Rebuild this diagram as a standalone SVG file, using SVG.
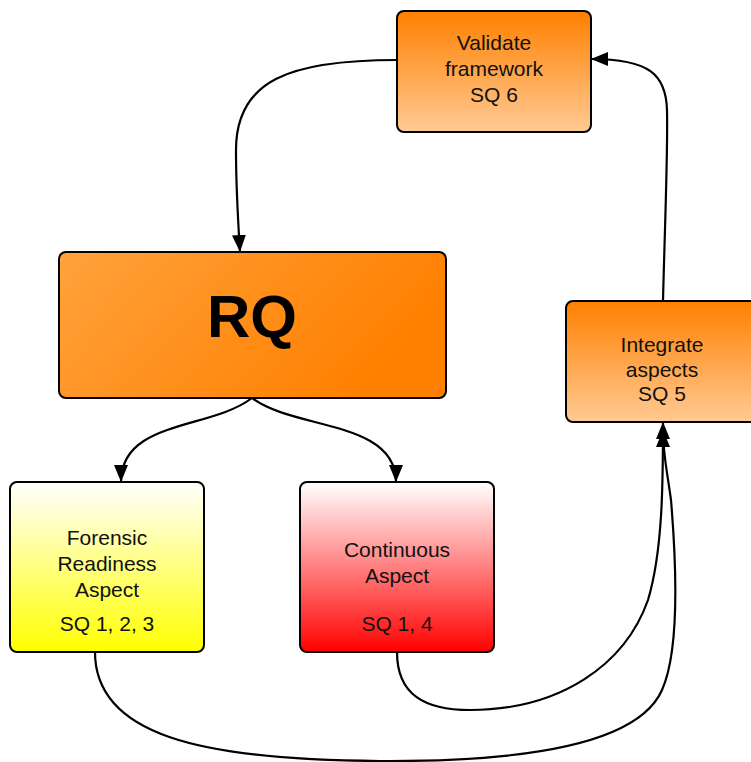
<svg xmlns="http://www.w3.org/2000/svg" width="751" height="762" viewBox="0 0 751 762">
  <defs>
    <linearGradient id="gOrangeV" x1="0" y1="0" x2="0" y2="1">
      <stop offset="0" stop-color="#ff8000"/>
      <stop offset="1" stop-color="#ffca94"/>
    </linearGradient>
    <linearGradient id="gOrangeD" x1="0" y1="0" x2="1" y2="0.35">
      <stop offset="0" stop-color="#ffa23c"/>
      <stop offset="1" stop-color="#ff8000"/>
    </linearGradient>
    <linearGradient id="gYellow" x1="0" y1="0" x2="0" y2="1">
      <stop offset="0" stop-color="#ffffff"/>
      <stop offset="1" stop-color="#ffff00"/>
    </linearGradient>
    <linearGradient id="gRed" x1="0" y1="0" x2="0" y2="1">
      <stop offset="0" stop-color="#ffffff"/>
      <stop offset="1" stop-color="#ff0000"/>
    </linearGradient>
    <marker id="arrow" markerUnits="userSpaceOnUse" markerWidth="18" markerHeight="14" refX="17" refY="7" orient="auto">
      <path d="M0,0 L17,7 L0,14 z" fill="#000"/>
    </marker>
  </defs>
  <style>
    .box { stroke: #000; stroke-width: 2; }
    .lbl { font-family: "Liberation Sans", Arial, sans-serif; font-size: 21px; fill: #111; text-anchor: middle; }
    .big { font-family: "Liberation Sans", Arial, sans-serif; font-size: 60px; font-weight: bold; fill: #000; text-anchor: middle; }
    .edge { fill: none; stroke: #000; stroke-width: 2.2; marker-end: url(#arrow); }
  </style>

  <g id="connectors">
    <path class="edge" d="M397,60 C290,60 236,80 236,150 C236,190 238,220 240,252"/>
    <path class="edge" d="M252,398 C210,430 121,420 121,482"/>
    <path class="edge" d="M252,398 C294,430 396,420 396,482"/>
    <path class="edge" d="M663,301 C665,220 668,150 667,110 C666,75 650,59 591,59"/>
    <path class="edge" d="M397,652 C397,695 425,710 470,710 C560,710 625,665 648,600 C663,550 663,480 663,422"/>
    <path class="edge" d="M95,652 C95,735 200,760 380,761 C540,762 640,740 662,690 C680,650 676,560 671,500 C667,470 663,455 663,430"/>
  </g>

  <g id="validate">
    <rect class="box" x="397" y="11" width="194" height="121" rx="7" fill="url(#gOrangeV)"/>
    <text class="lbl" x="494" y="50">Validate</text>
    <text class="lbl" x="494" y="76">framework</text>
    <text class="lbl" x="494" y="102">SQ 6</text>
  </g>

  <g id="rq">
    <rect class="box" x="59" y="252" width="387" height="146" rx="7" fill="url(#gOrangeD)"/>
    <text class="big" x="252" y="337">RQ</text>
  </g>

  <g id="integrate">
    <rect class="box" x="566" y="301" width="194" height="121" rx="7" fill="url(#gOrangeV)"/>
    <text class="lbl" x="662" y="352">Integrate</text>
    <text class="lbl" x="662" y="377">aspects</text>
    <text class="lbl" x="662" y="401">SQ 5</text>
  </g>

  <g id="forensic">
    <rect class="box" x="10" y="482" width="194" height="170" rx="7" fill="url(#gYellow)"/>
    <text class="lbl" x="107" y="545">Forensic</text>
    <text class="lbl" x="107" y="571">Readiness</text>
    <text class="lbl" x="107" y="597">Aspect</text>
    <text class="lbl" x="107" y="631">SQ 1, 2, 3</text>
  </g>

  <g id="continuous">
    <rect class="box" x="300" y="482" width="194" height="170" rx="7" fill="url(#gRed)"/>
    <text class="lbl" x="397" y="557">Continuous</text>
    <text class="lbl" x="397" y="583">Aspect</text>
    <text class="lbl" x="397" y="631">SQ 1, 4</text>
  </g>
</svg>
